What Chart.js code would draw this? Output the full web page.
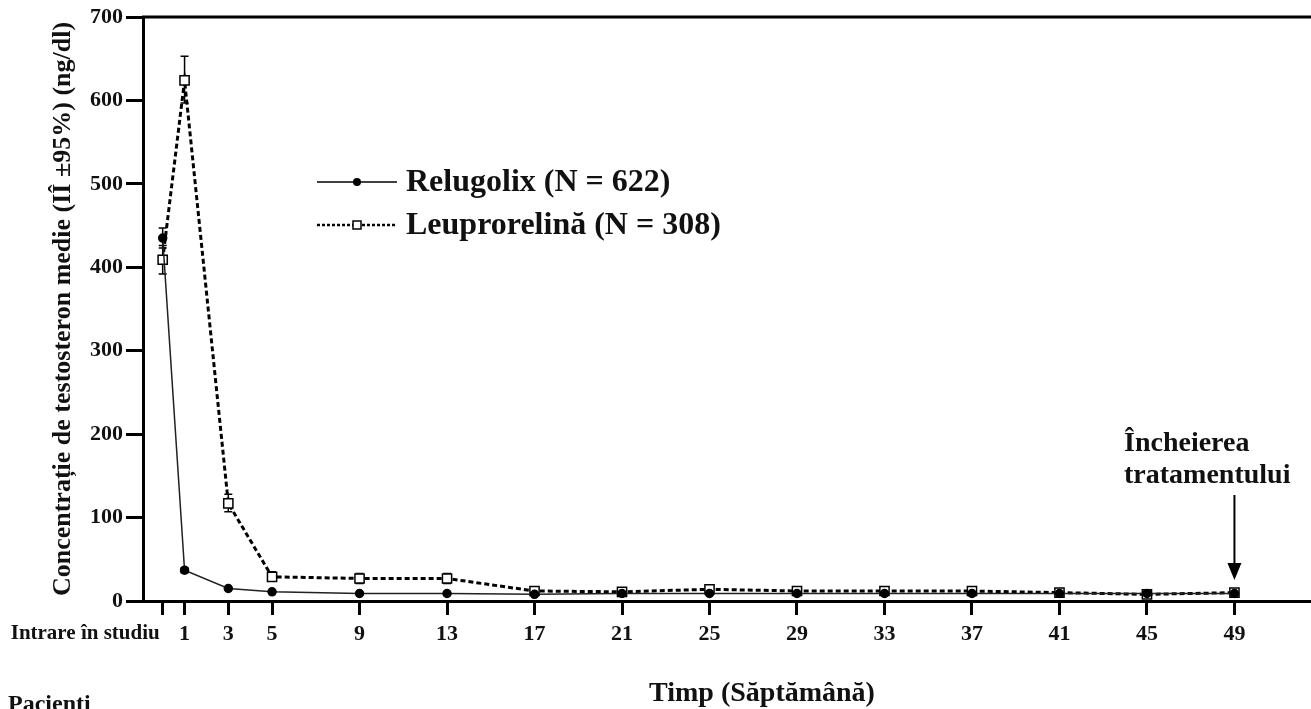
<!DOCTYPE html>
<html lang="ro">
<head>
<meta charset="utf-8">
<title>Testosteron - Relugolix vs Leuprorelină</title>
<script src="https://cdn.jsdelivr.net/npm/chart.js@4/dist/chart.umd.min.js"></script>
<style>
  html, body { margin: 0; padding: 0; background: #fff; }
  canvas { display: block; }
</style>
</head>
<body>
<canvas id="grafico" width="1311" height="709"></canvas>
<script>
// weeks (0 = intrare in studiu)
const weeks = [0, 1, 3, 5, 9, 13, 17, 21, 25, 29, 33, 37, 41, 45, 49];

// Relugolix (N = 622)
const relugolix     = [435, 37, 15, 11, 9, 9, 8, 9, 9, 9, 9, 9, 9, 9, 9];
const relugolixLow  = [423, 34, 14, 10, 8, 8, 7, 8, 8, 8, 8, 8, 8, 8, 8];
const relugolixHigh = [447, 40, 16, 12, 10, 10, 9, 10, 10, 10, 10, 10, 10, 10, 10];

// Leuprorelina (N = 308)
const leuprorelina     = [409, 624, 117, 29, 27, 27, 12, 11, 14, 12, 12, 12, 10, 8, 10];
const leuprorelinaLow  = [392, 597, 107, 24, 21, 21, 10, 9, 12, 10, 10, 10, 8, 7, 8];
const leuprorelinaHigh = [426, 653, 128, 35, 33, 33, 14, 13, 16, 14, 14, 14, 12, 10, 12];

const yTicks = [0, 100, 200, 300, 400, 500, 600, 700];

const FONT = '"Liberation Serif", "Times New Roman", serif';
const TXT = "#111";

// bare de eroare (IÎ 95%)
const errorBars = {
  id: "errorBars",
  beforeDatasetsDraw(chart) {
    const xs = chart.scales.x;
    const ys = chart.scales.y;
    const ctx = chart.ctx;
    const series = [
      [relugolixLow, relugolixHigh],
      [leuprorelinaLow, leuprorelinaHigh],
    ];
    ctx.save();
    ctx.strokeStyle = "#000";
    ctx.lineWidth = 1.5;
    series.forEach(([low, high]) => {
      weeks.forEach((w, i) => {
        const x = xs.getPixelForValue(w);
        const y1 = ys.getPixelForValue(low[i]);
        const y2 = ys.getPixelForValue(high[i]);
        ctx.beginPath();
        ctx.moveTo(x, y1);
        ctx.lineTo(x, y2);
        ctx.moveTo(x - 4, y1);
        ctx.lineTo(x + 4, y1);
        ctx.moveTo(x - 4, y2);
        ctx.lineTo(x + 4, y2);
        ctx.stroke();
      });
    });
    ctx.restore();
  },
};

// textos, legenda, sageata
const decor = {
  id: "decor",
  afterDraw(chart) {
    const ctx = chart.ctx;
    const xs = chart.scales.x;
    const ys = chart.scales.y;
    const area = chart.chartArea;
    ctx.save();

    // linia de sus
    ctx.strokeStyle = "#000";
    ctx.lineWidth = 3;
    ctx.beginPath();
    ctx.moveTo(area.left - 1, ys.getPixelForValue(700));
    ctx.lineTo(area.right, ys.getPixelForValue(700));
    ctx.stroke();

    // legenda
    const legendX = 317;
    const rows = [
      { y: 182, text: "Relugolix (N = 622)", dash: [], width: 1.5, point: "circle" },
      { y: 225, text: "Leuprorelină (N = 308)", dash: [3, 2], width: 2.5, point: "rect" },
    ];
    rows.forEach((r) => {
      ctx.setLineDash(r.dash);
      ctx.lineWidth = r.width;
      ctx.strokeStyle = "#000";
      ctx.beginPath();
      ctx.moveTo(legendX, r.y);
      ctx.lineTo(legendX + 80, r.y);
      ctx.stroke();
      ctx.setLineDash([]);
      if (r.point === "circle") {
        ctx.fillStyle = "#000";
        ctx.beginPath();
        ctx.arc(legendX + 40, r.y, 4, 0, Math.PI * 2);
        ctx.fill();
      } else {
        ctx.fillStyle = "#fff";
        ctx.lineWidth = 1.5;
        ctx.fillRect(legendX + 36, r.y - 4, 8, 8);
        ctx.strokeRect(legendX + 36, r.y - 4, 8, 8);
      }
      ctx.fillStyle = TXT;
      ctx.font = "bold 32px " + FONT;
      ctx.textAlign = "left";
      ctx.textBaseline = "middle";
      ctx.fillText(r.text, legendX + 89, r.y + 1);
    });

    // sageata - incheierea tratamentului
    const ax = xs.getPixelForValue(49);
    ctx.font = "bold 28px " + FONT;
    ctx.textAlign = "left";
    ctx.textBaseline = "middle";
    ctx.fillStyle = TXT;
    ctx.fillText("Încheierea", 1124, 444);
    ctx.fillText("tratamentului", 1124, 476);
    ctx.strokeStyle = "#000";
    ctx.lineWidth = 2;
    ctx.beginPath();
    ctx.moveTo(ax, 495);
    ctx.lineTo(ax, 566);
    ctx.stroke();
    ctx.fillStyle = "#000";
    ctx.beginPath();
    ctx.moveTo(ax - 7, 563);
    ctx.lineTo(ax + 7, 563);
    ctx.lineTo(ax, 580);
    ctx.closePath();
    ctx.fill();

    // titlu axa Y
    ctx.fillStyle = TXT;
    ctx.save();
    ctx.translate(63, (area.top + area.bottom) / 2);
    ctx.rotate(-Math.PI / 2);
    ctx.font = "bold 26px " + FONT;
    ctx.textAlign = "center";
    ctx.textBaseline = "middle";
    ctx.fillText("Concentrație de testosteron medie (IÎ ±95%) (ng/dl)", 0, 0);
    ctx.restore();

    // titlu axa X
    ctx.font = "bold 28px " + FONT;
    ctx.textAlign = "center";
    ctx.textBaseline = "middle";
    ctx.fillText("Timp (Săptămână)", 762, 694);

    // eticheta intrare in studiu
    ctx.font = "bold 21px " + FONT;
    ctx.textAlign = "right";
    ctx.fillText("Intrare în studiu", xs.getPixelForValue(0) - 3, 634);

    // pacienti
    ctx.font = "bold 24px " + FONT;
    ctx.textAlign = "left";
    ctx.textBaseline = "top";
    ctx.fillText("Pacienti", 8, 693);

    ctx.restore();
  },
};

const dados = {
  datasets: [
    {
      label: "Relugolix (N = 622)",
      data: weeks.map((w, i) => ({ x: w, y: relugolix[i] })),
      borderColor: "#222",
      borderWidth: 1.5,
      pointStyle: "circle",
      pointRadius: 4,
      pointBackgroundColor: "#000",
      pointBorderColor: "#000",
      tension: 0,
    },
    {
      label: "Leuprorelină (N = 308)",
      data: weeks.map((w, i) => ({ x: w, y: leuprorelina[i] })),
      borderColor: "#000",
      borderWidth: 3,
      borderDash: [5, 3],
      pointStyle: "rect",
      pointRadius: 6.5,
      pointBorderWidth: 1.5,
      pointBackgroundColor: "#fff",
      pointBorderColor: "#000",
      tension: 0,
    },
  ],
};

new Chart(document.getElementById("grafico"), {
  type: "line",
  data: dados,
  plugins: [errorBars, decor],
  options: {
    responsive: false,
    animation: false,
    devicePixelRatio: 1,
    layout: { autoPadding: false, padding: { top: 17, right: 0, bottom: 0, left: 0 } },
    plugins: {
      legend: { display: false },
      tooltip: { enabled: false },
    },
    scales: {
      x: {
        type: "linear",
        min: -0.9,
        max: 52.5,
        afterBuildTicks: (s) => {
          s.ticks = weeks.map((v) => ({ value: v }));
        },
        afterFit: (s) => {
          s.height = 108;
          s.paddingLeft = 0;
          s.paddingRight = 0;
        },
        grid: { drawOnChartArea: false, tickLength: 14, tickWidth: 3, tickColor: "#000" },
        border: { display: true, width: 3, color: "#000" },
        ticks: {
          autoSkip: false,
          maxRotation: 0,
          padding: 6,
          color: TXT,
          font: { family: FONT, size: 22, weight: "bold" },
          callback: (v) => (v === 0 ? "" : v),
        },
      },
      y: {
        min: 0,
        max: 700,
        afterBuildTicks: (s) => {
          s.ticks = yTicks.map((v) => ({ value: v }));
        },
        afterFit: (s) => {
          s.width = 143;
        },
        grid: { drawOnChartArea: false, tickLength: 17, tickWidth: 3, tickColor: "#000" },
        border: { display: true, width: 3, color: "#000" },
        ticks: {
          padding: 3,
          color: TXT,
          font: { family: FONT, size: 22, weight: "bold" },
        },
      },
    },
  },
});
</script>
</body>
</html>
